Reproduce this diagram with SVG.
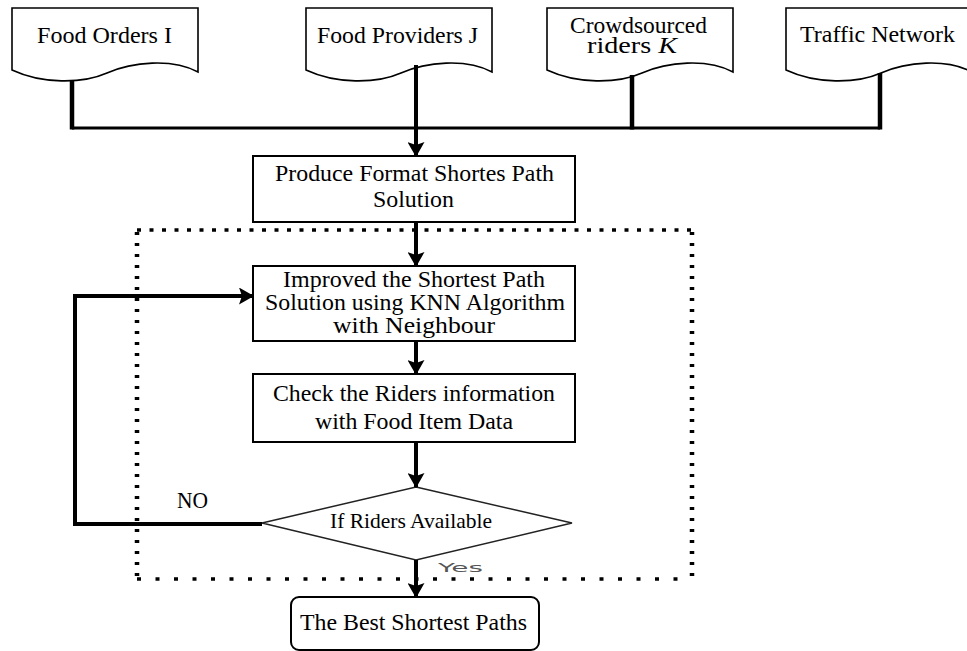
<svg xmlns="http://www.w3.org/2000/svg" width="967" height="651" viewBox="0 0 967 651">
  <style>
    .doc { fill: #fff; stroke: #000; stroke-width: 1.6; }
    .box { fill: #fff; stroke: #000; stroke-width: 2; }
    .dia { fill: #fff; stroke: #222; stroke-width: 1.5; }
    .t { font-family: 'Liberation Serif', 'Times New Roman', Times, serif; font-size: 24px; fill: #000; }
    .ts { font-family: 'Liberation Serif', 'Times New Roman', Times, serif; font-size: 22px; fill: #000; }
    .yes { font-family: 'DejaVu Sans', 'Liberation Sans', sans-serif; font-size: 13px; fill: #555; }
    .stem { stroke: #000; stroke-width: 4.5; fill: none; }
    .bus { stroke: #000; stroke-width: 3; fill: none; }
    .flow { stroke: #000; stroke-width: 4; fill: none; marker-end: url(#head); }
    .dot { stroke: #000; fill: none; }
  </style>
  <defs>
    <marker id="head" markerUnits="userSpaceOnUse" viewBox="0 0 15 17" refX="14" refY="8.5" markerWidth="15" markerHeight="17" orient="auto">
      <path d="M0,0 L15,8.5 L0,17 L3,8.5 Z" fill="#000"/>
    </marker>
  </defs>
  <rect width="967" height="651" fill="#fff"/>

  <!-- dotted frame around the iteration loop -->
  <g id="loop-frame">
    <line class="dot" x1="137" y1="230" x2="692" y2="230" stroke-width="3.5" stroke-dasharray="4 8.5"/>
    <line class="dot" x1="137" y1="579" x2="692" y2="579" stroke-width="3.5" stroke-dasharray="4 14.5"/>
    <line class="dot" x1="137" y1="232" x2="137" y2="579" stroke-width="4.5" stroke-dasharray="3 8"/>
    <line class="dot" x1="692" y1="232" x2="692" y2="579" stroke-width="4.5" stroke-dasharray="3 8"/>
  </g>

  <!-- input documents -->
  <g id="food-orders">
    <path class="doc" d="M12,70 V8 H198 V72 C172,58 132,62 107,73 C82,84 42,84 12,70 Z"/>
    <text class="t" x="37" y="43" textLength="135" lengthAdjust="spacingAndGlyphs">Food Orders I</text>
  </g>
  <g id="food-providers">
    <path class="doc" d="M306,70 V8 H492 V72 C466,58 426,62 401,73 C376,84 336,84 306,70 Z"/>
    <text class="t" x="317" y="43" textLength="161" lengthAdjust="spacingAndGlyphs">Food Providers J</text>
  </g>
  <g id="crowdsourced-riders">
    <path class="doc" d="M547,70 V8 H733 V72 C707,58 667,62 642,73 C617,84 577,84 547,70 Z"/>
    <text class="t" x="570" y="33" textLength="137" lengthAdjust="spacingAndGlyphs">Crowdsourced</text>
    <text class="t" x="587" y="53" textLength="90" lengthAdjust="spacingAndGlyphs">riders <tspan font-style="italic">K</tspan></text>
  </g>
  <g id="traffic-network">
    <path class="doc" d="M786,70 V8 H972 V72 C946,58 906,62 881,73 C856,84 816,84 786,70 Z"/>
    <text class="t" x="800" y="42" textLength="155" lengthAdjust="spacingAndGlyphs">Traffic Network</text>
  </g>

  <!-- process steps -->
  <g id="produce-format">
    <rect class="box" x="253" y="156" width="322" height="66"/>
    <text class="t" x="275" y="181" textLength="279" lengthAdjust="spacingAndGlyphs">Produce Format Shortes Path</text>
    <text class="t" x="373" y="207" textLength="81" lengthAdjust="spacingAndGlyphs">Solution</text>
  </g>
  <g id="improve-knn">
    <rect class="box" x="253" y="266" width="322" height="75"/>
    <text class="t" x="283" y="287" textLength="262" lengthAdjust="spacingAndGlyphs">Improved the Shortest Path</text>
    <text class="t" x="265" y="310" textLength="300" lengthAdjust="spacingAndGlyphs">Solution using KNN Algorithm</text>
    <text class="t" x="333" y="333" textLength="162" lengthAdjust="spacingAndGlyphs">with Neighbour</text>
  </g>
  <g id="check-riders">
    <rect class="box" x="253" y="374" width="322" height="68"/>
    <text class="t" x="273" y="401" textLength="282" lengthAdjust="spacingAndGlyphs">Check the Riders information</text>
    <text class="t" x="315" y="429" textLength="198" lengthAdjust="spacingAndGlyphs">with Food Item Data</text>
  </g>
  <g id="riders-available">
    <path class="dia" d="M416,487 L572,523 L416,560 L262,523 Z"/>
    <text class="ts" x="330" y="528" textLength="162" lengthAdjust="spacingAndGlyphs">If Riders Available</text>
  </g>
  <g id="best-paths">
    <rect class="box" x="291" y="597" width="248" height="53" rx="8" ry="8" stroke-width="1.6"/>
    <text class="t" x="300" y="630" textLength="227" lengthAdjust="spacingAndGlyphs">The Best Shortest Paths</text>
  </g>

  <!-- connectors -->
  <g id="connectors">
    <line class="stem" x1="72" y1="80" x2="72" y2="129.5"/>
    <line class="stem" x1="632" y1="75" x2="632" y2="129.5"/>
    <line class="stem" x1="880" y1="73" x2="880" y2="129.5"/>
    <line class="bus" x1="72" y1="128" x2="880" y2="128"/>
    <line class="flow" x1="416" y1="65" x2="416" y2="156"/>
    <line class="flow" x1="416" y1="222" x2="416" y2="266"/>
    <line class="flow" x1="416" y1="341" x2="416" y2="374"/>
    <line class="flow" x1="416" y1="442" x2="416" y2="487"/>
    <line class="flow" x1="416" y1="560" x2="416" y2="597"/>
    <path class="flow" d="M262,524 H75 V296 H253" stroke-width="4.5"/>
    <text class="t" x="177" y="508" textLength="31" lengthAdjust="spacingAndGlyphs">NO</text>
    <text class="yes" x="438" y="572" textLength="45" lengthAdjust="spacingAndGlyphs">Yes</text>
  </g>
</svg>
